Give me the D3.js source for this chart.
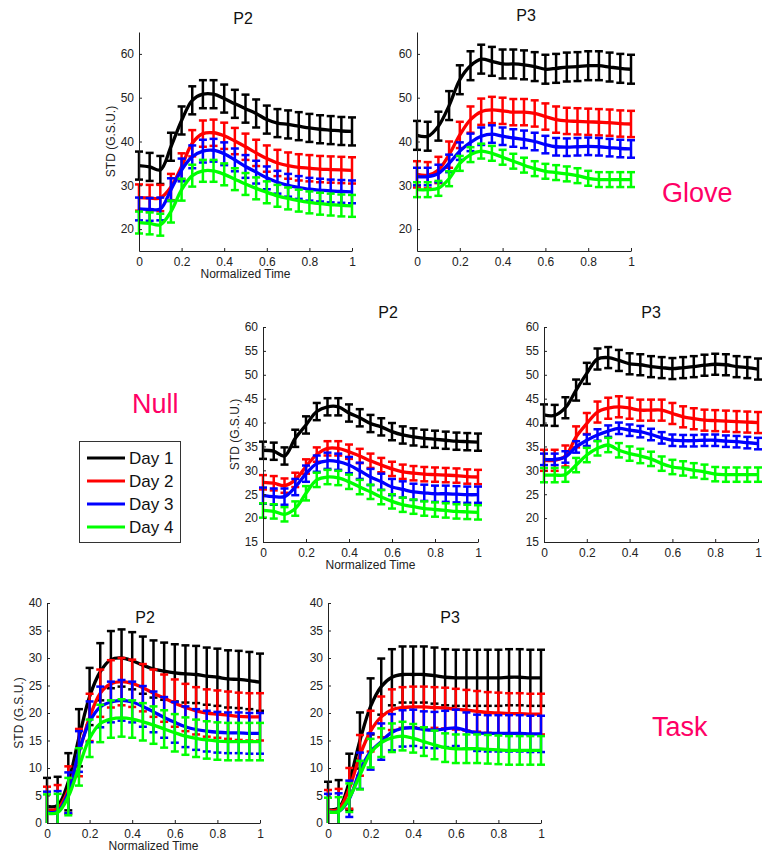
<!DOCTYPE html>
<html>
<head>
<meta charset="utf-8">
<script src="https://cdn.jsdelivr.net/npm/d3@7"></script>
<style>
    body { margin: 0; background: #fff; }
    svg { display: block; font-family: "Liberation Sans", Arial, sans-serif; }
</style>
</head>
<body>
<div id="chart"></div>
<script>
// normalized time samples shared by every panel
const timePoints = [0, 0.05, 0.1, 0.15, 0.2, 0.25, 0.3, 0.35, 0.4, 0.45, 0.5,
    0.55, 0.6, 0.65, 0.7, 0.75, 0.8, 0.85, 0.9, 0.95, 1];

const dayNames = ['Day 1', 'Day 2', 'Day 3', 'Day 4'];
const dayColors = ['#000000', '#ff0000', '#0000ff', '#00ff00'];

const xTicks = [0, 0.2, 0.4, 0.6, 0.8, 1];
const gloveTicks = [20, 30, 40, 50, 60];
const nullTicks = [15, 20, 25, 30, 35, 40, 45, 50, 55, 60];
const taskTicks = [0, 5, 10, 15, 20, 25, 30, 35, 40];

// Glove, P2
const gloveP2Day1 = [34.5, 34.2, 33.5, 38.8, 44.8, 49.4, 50.8, 50.8, 49.8, 48.6, 47.5, 46.4, 45.0, 44.2, 43.9, 43.5, 43.1, 42.8, 42.6, 42.4, 42.3];
const gloveP2Day2 = [27.2, 27.1, 27.1, 29.6, 34.3, 39.6, 41.8, 42.0, 41.3, 40.1, 38.8, 37.4, 36.1, 35.1, 34.5, 34.1, 33.9, 33.7, 33.6, 33.5, 33.4];
const gloveP2Day3 = [24.6, 24.5, 24.6, 29.0, 33.5, 36.5, 37.8, 38.0, 37.2, 35.8, 34.3, 33.0, 31.7, 30.7, 30.0, 29.5, 29.1, 28.9, 28.7, 28.6, 28.5];
const gloveP2Day4 = [21.5, 21.3, 21.0, 24.0, 29.0, 32.2, 33.3, 33.3, 32.5, 31.4, 30.3, 29.3, 28.4, 27.6, 27.0, 26.5, 26.1, 25.8, 25.6, 25.4, 25.3];
const gloveP2Err = [3.2, 3.0, 2.6, 2.5];

// Glove, P3
const gloveP3Day1 = [41.4, 41.2, 43.5, 48.2, 54.1, 57.3, 58.8, 58.3, 57.7, 57.7, 57.5, 57.1, 56.5, 56.7, 57.0, 57.1, 57.3, 57.3, 57.0, 56.7, 56.5];
const gloveP3Day2 = [32.5, 32.3, 33.5, 37.0, 41.5, 45.0, 46.8, 47.2, 47.0, 46.7, 46.7, 46.4, 45.7, 45.0, 44.7, 44.6, 44.5, 44.4, 44.3, 44.1, 44.0];
const gloveP3Day3 = [32.0, 32.0, 32.7, 35.0, 37.8, 39.8, 41.2, 41.7, 41.2, 40.8, 40.5, 40.0, 39.3, 38.8, 38.7, 38.8, 38.9, 38.8, 38.6, 38.4, 38.3];
const gloveP3Day4 = [29.0, 29.0, 29.3, 31.5, 35.0, 37.0, 37.8, 37.3, 36.4, 35.5, 34.6, 33.8, 33.2, 32.9, 32.6, 32.2, 31.6, 31.3, 31.3, 31.3, 31.3];
const gloveP3Err = [3.3, 3.0, 2.0, 1.7];

// Null, P2
const nullP2Day1 = [34.2, 34.0, 33.0, 36.7, 39.5, 42.3, 43.3, 43.3, 42.0, 41.0, 39.8, 39.1, 38.1, 37.4, 37.0, 36.7, 36.5, 36.3, 36.1, 36.0, 35.9];
const nullP2Day2 = [27.5, 27.3, 26.8, 28.0, 30.8, 33.3, 34.6, 34.6, 33.9, 33.0, 32.0, 31.1, 30.3, 29.7, 29.4, 29.2, 29.1, 29.0, 28.9, 28.7, 28.6];
const nullP2Day3 = [24.7, 24.5, 24.5, 26.5, 29.3, 31.4, 32.0, 31.8, 31.1, 29.9, 28.6, 27.6, 26.5, 26.0, 25.5, 25.3, 25.1, 25.1, 25.0, 24.9, 24.9];
const nullP2Day4 = [21.6, 21.4, 20.8, 22.0, 25.2, 28.0, 28.6, 28.4, 27.6, 26.5, 25.5, 24.4, 23.5, 22.8, 22.4, 22.0, 21.8, 21.6, 21.4, 21.3, 21.2];
const nullP2Err = [1.8, 1.5, 1.7, 1.5];

// Null, P3
const nullP3Day1 = [41.6, 41.5, 43.1, 46.8, 50.3, 53.3, 53.6, 53.0, 52.3, 52.1, 51.7, 51.5, 51.3, 51.5, 51.7, 52.0, 52.2, 52.1, 51.7, 51.5, 51.2];
const nullP3Day2 = [32.1, 32.1, 33.0, 37.0, 39.8, 42.2, 43.0, 43.3, 43.0, 42.6, 42.6, 42.6, 41.9, 41.2, 40.8, 40.5, 40.4, 40.3, 40.2, 40.1, 40.0];
const nullP3Day3 = [32.3, 32.3, 32.8, 34.9, 36.3, 37.4, 38.2, 38.8, 38.4, 38.1, 37.5, 36.8, 36.3, 36.2, 36.2, 36.3, 36.3, 36.1, 36.0, 35.8, 35.6];
const nullP3Day4 = [29.0, 29.0, 29.1, 31.1, 33.2, 34.6, 35.3, 34.2, 33.5, 33.0, 32.4, 31.4, 30.7, 30.4, 30.0, 29.7, 29.2, 29.1, 29.1, 29.1, 29.1];
const nullP3Err = [2.2, 2.2, 1.2, 1.5];

// Task, P2
const taskP2Day1 = [3.0, 3.2, 7.5, 15.5, 23.0, 27.5, 29.7, 30.0, 29.5, 28.7, 28.0, 27.6, 27.3, 27.1, 27.0, 26.7, 26.5, 26.2, 26.1, 25.9, 25.6];
const taskP2Day2 = [2.3, 2.6, 6.0, 12.8, 19.2, 23.6, 25.3, 25.7, 25.4, 24.6, 23.6, 22.7, 21.8, 21.0, 20.4, 20.0, 19.8, 19.6, 19.4, 19.3, 19.3];
const taskP2Day3 = [2.0, 2.1, 5.5, 13.0, 18.4, 21.1, 22.0, 22.3, 22.0, 21.2, 20.2, 19.2, 18.3, 17.5, 17.0, 16.7, 16.5, 16.4, 16.4, 16.3, 16.3];
const taskP2Day4 = [1.8, 1.9, 4.8, 10.2, 15.4, 18.1, 18.9, 19.1, 18.9, 18.4, 17.8, 17.1, 16.4, 15.8, 15.4, 15.1, 14.9, 14.8, 14.8, 14.8, 14.8];
const taskP2Err = [5.2, 4.3, 3.7, 3.4];

// Task, P3
const taskP3Day1 = [2.4, 2.7, 7.5, 15.0, 21.2, 24.8, 26.5, 27.0, 27.0, 27.0, 26.8, 26.5, 26.4, 26.4, 26.4, 26.4, 26.4, 26.5, 26.5, 26.4, 26.4];
const taskP3Day2 = [2.3, 2.5, 6.3, 12.3, 16.7, 19.3, 20.6, 21.0, 21.1, 21.1, 21.0, 20.9, 20.7, 20.5, 20.3, 20.1, 20.0, 19.9, 19.9, 19.8, 19.8];
const taskP3Day3 = [2.0, 2.1, 4.4, 9.5, 13.0, 14.8, 16.5, 17.2, 17.3, 17.0, 16.9, 17.1, 17.3, 16.8, 16.4, 16.3, 16.3, 16.3, 16.3, 16.2, 16.2];
const taskP3Day4 = [2.0, 2.1, 4.6, 8.7, 12.7, 14.6, 15.5, 15.8, 15.4, 14.8, 14.2, 13.7, 13.5, 13.5, 13.5, 13.4, 13.3, 13.2, 13.2, 13.2, 13.2];
const taskP3Err = [5.1, 3.7, 3.3, 2.6];

const width = 767;
const height = 856;
const pink = '#ff0066';

// where each axes box sits on the page
const panels = [
    {title: 'P2', series: [gloveP2Day1, gloveP2Day2, gloveP2Day3, gloveP2Day4], err: gloveP2Err,
     yDomain: [15, 65], yTicks: gloveTicks, left: 139, right: 352, top: 32, bottom: 251,
     titleX: 243, titleY: 24, yLabel: true, xLabel: true},
    {title: 'P3', series: [gloveP3Day1, gloveP3Day2, gloveP3Day3, gloveP3Day4], err: gloveP3Err,
     yDomain: [15, 65], yTicks: gloveTicks, left: 417, right: 631, top: 32, bottom: 251,
     titleX: 526, titleY: 21, yLabel: false, xLabel: false},
    {title: 'P2', series: [nullP2Day1, nullP2Day2, nullP2Day3, nullP2Day4], err: nullP2Err,
     yDomain: [15, 60], yTicks: nullTicks, left: 263, right: 478, top: 327, bottom: 542,
     titleX: 388, titleY: 318, yLabel: true, xLabel: true},
    {title: 'P3', series: [nullP3Day1, nullP3Day2, nullP3Day3, nullP3Day4], err: nullP3Err,
     yDomain: [15, 60], yTicks: nullTicks, left: 544, right: 758, top: 327, bottom: 542,
     titleX: 651, titleY: 318, yLabel: false, xLabel: false},
    {title: 'P2', series: [taskP2Day1, taskP2Day2, taskP2Day3, taskP2Day4], err: taskP2Err,
     yDomain: [0, 40], yTicks: taskTicks, left: 47, right: 260, top: 603, bottom: 823,
     titleX: 145, titleY: 623, yLabel: true, xLabel: true},
    {title: 'P3', series: [taskP3Day1, taskP3Day2, taskP3Day3, taskP3Day4], err: taskP3Err,
     yDomain: [0, 40], yTicks: taskTicks, left: 328, right: 541, top: 603, bottom: 823,
     titleX: 450, titleY: 623, yLabel: false, xLabel: false}
];

const svg = d3.select('#chart').append('svg')
    .attr('width', width)
    .attr('height', height)
    .attr('viewBox', [0, 0, width, height]);

const tickFormat = d3.format('~g');
const capHalf = 4;

panels.forEach((p, i) => {
    const x = d3.scaleLinear().domain([0, 1]).range([p.left, p.right]);
    const y = d3.scaleLinear().domain(p.yDomain).range([p.bottom, p.top]);

    //clip only vertically so the end caps can stick out sideways
    const clipId = 'clip' + i;
    svg.append('clipPath').attr('id', clipId)
        .append('rect')
        .attr('x', p.left - 10)
        .attr('y', p.top)
        .attr('width', p.right - p.left + 20)
        .attr('height', p.bottom - p.top);

    const plot = svg.append('g').attr('clip-path', `url(#${clipId})`);

    const line = d3.line()
        .x((d, j) => x(timePoints[j]))
        .y(d => y(d))
        .curve(d3.curveCatmullRom.alpha(0.5));

    p.series.forEach((values, k) => {
        const color = dayColors[k];
        const e = p.err[k];
        const bars = plot.append('g')
            .attr('stroke', color)
            .attr('stroke-width', 2.5);

        const bar = bars.selectAll('g')
            .data(values)
            .join('g');

        bar.append('line')
            .attr('x1', (d, j) => x(timePoints[j]))
            .attr('x2', (d, j) => x(timePoints[j]))
            .attr('y1', d => y(d - e))
            .attr('y2', d => y(d + e));
        bar.append('line')
            .attr('x1', (d, j) => x(timePoints[j]) - capHalf)
            .attr('x2', (d, j) => x(timePoints[j]) + capHalf)
            .attr('y1', d => y(d + e))
            .attr('y2', d => y(d + e));
        bar.append('line')
            .attr('x1', (d, j) => x(timePoints[j]) - capHalf)
            .attr('x2', (d, j) => x(timePoints[j]) + capHalf)
            .attr('y1', d => y(d - e))
            .attr('y2', d => y(d - e));

        plot.append('path')
            .datum(values)
            .attr('fill', 'none')
            .attr('stroke', color)
            .attr('stroke-width', 3.3)
            .attr('stroke-linejoin', 'round')
            .attr('d', line);
    });

    // matlab style axes: ticks point inwards, no box
    const xAxis = svg.append('g')
        .attr('transform', `translate(0,${p.bottom})`)
        .call(d3.axisBottom(x).tickValues(xTicks).tickFormat(tickFormat).tickSizeInner(-3).tickSizeOuter(0).tickPadding(6));
    const yAxis = svg.append('g')
        .attr('transform', `translate(${p.left},0)`)
        .call(d3.axisLeft(y).tickValues(p.yTicks).tickFormat(tickFormat).tickSizeInner(-3).tickSizeOuter(0).tickPadding(5));

    [xAxis, yAxis].forEach(a => {
        a.select('.domain').attr('stroke', '#222');
        a.selectAll('.tick line').attr('stroke', '#222');
        a.selectAll('.tick text')
            .attr('fill', '#222')
            .style('font-size', '12px')
            .style('font-family', '"Liberation Sans", Arial, sans-serif');
    });

    svg.append('text')
        .attr('x', p.titleX)
        .attr('y', p.titleY)
        .attr('text-anchor', 'middle')
        .style('font-size', '16px')
        .attr('fill', '#111')
        .text(p.title);

    if (p.xLabel) {
        svg.append('text')
            .attr('x', (p.left + p.right) / 2)
            .attr('y', p.bottom + 27)
            .attr('text-anchor', 'middle')
            .style('font-size', '12px')
            .attr('fill', '#222')
            .text('Normalized Time');
    }
    if (p.yLabel) {
        svg.append('text')
            .attr('transform', `translate(${p.left - 24},${(p.top + p.bottom) / 2}) rotate(-90)`)
            .attr('text-anchor', 'middle')
            .style('font-size', '12px')
            .attr('fill', '#222')
            .text('STD (G.S.U.)');
    }
});

// condition labels
const groupLabels = [
    {text: 'Glove', x: 662, y: 202},
    {text: 'Null', x: 132, y: 413},
    {text: 'Task', x: 652, y: 736}
];
svg.selectAll('.group-label')
    .data(groupLabels)
    .join('text')
    .attr('class', 'group-label')
    .attr('x', d => d.x)
    .attr('y', d => d.y)
    .attr('fill', pink)
    .style('font-size', '27px')
    .text(d => d.text);

// legend
const legend = svg.append('g');
legend.append('rect')
    .attr('x', 79.5)
    .attr('y', 441.5)
    .attr('width', 101)
    .attr('height', 101)
    .attr('fill', '#fff')
    .attr('stroke', '#333')
    .attr('stroke-width', 1);

const legendY = d3.scalePoint().domain(dayNames).range([458, 527]);
dayNames.forEach((name, k) => {
    legend.append('line')
        .attr('x1', 87)
        .attr('x2', 125)
        .attr('y1', legendY(name))
        .attr('y2', legendY(name))
        .attr('stroke', dayColors[k])
        .attr('stroke-width', 3);
    legend.append('text')
        .attr('x', 129)
        .attr('y', legendY(name))
        .attr('dy', '0.35em')
        .style('font-size', '17px')
        .attr('fill', '#111')
        .text(name);
});
</script>
</body>
</html>
